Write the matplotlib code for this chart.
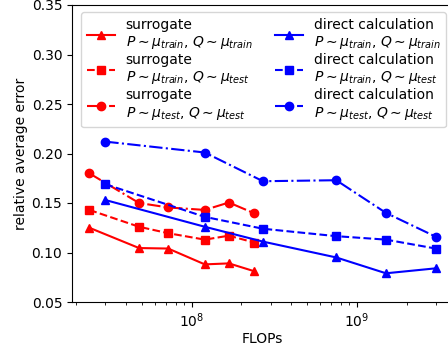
import numpy as np
from matplotlib import pyplot as plt

# FLOPs for each method
flops_sur = [2.4e7, 4.8e7, 7.2e7, 1.2e8, 1.68e8, 2.4e8]
flops_dir = [3.0e7, 1.2e8, 2.7e8, 7.5e8, 1.5e9, 3.0e9]

# surrogate errors
sur_train_train = [0.125, 0.1045, 0.104, 0.088, 0.089, 0.081]
sur_train_test = [0.143, 0.126, 0.1195, 0.113, 0.117, 0.110]
sur_test_test = [0.180, 0.150, 0.1455, 0.143, 0.1505, 0.1395]

# direct calculation errors
dir_train_train = [0.153, 0.126, 0.111, 0.095, 0.079, 0.084]
dir_train_test = [0.169, 0.136, 0.124, 0.1165, 0.113, 0.104]
dir_test_test = [0.212, 0.201, 0.172, 0.173, 0.140, 0.116]

lab_tt = r'$P \sim \mu_{train}$, $Q \sim \mu_{train}$'
lab_te = r'$P \sim \mu_{train}$, $Q \sim \mu_{test}$'
lab_ee = r'$P \sim \mu_{test}$, $Q \sim \mu_{test}$'

fig = plt.figure(figsize=(4.48, 3.49), dpi=100)
ax = fig.add_axes([72 / 448, 47 / 349, 381 / 448, 297 / 349])

ax.plot(flops_sur, sur_train_train, 'r^-', label='surrogate\n' + lab_tt)
ax.plot(flops_sur, sur_train_test, 'rs--', label='surrogate\n' + lab_te)
ax.plot(flops_sur, sur_test_test, 'ro-.', label='surrogate\n' + lab_ee)
ax.plot(flops_dir, dir_train_train, 'b^-', label='direct calculation\n' + lab_tt)
ax.plot(flops_dir, dir_train_test, 'bs--', label='direct calculation\n' + lab_te)
ax.plot(flops_dir, dir_test_test, 'bo-.', label='direct calculation\n' + lab_ee)

ax.set_xscale('log')
ax.set_ylim(0.05, 0.35)
ax.set_xlabel('FLOPs', labelpad=1.5)
ax.set_ylabel('relative average error', labelpad=2.5)
ax.legend(ncol=2, loc='upper right', labelspacing=0.15, columnspacing=1.6)

fig.savefig('out.png', dpi=100)
